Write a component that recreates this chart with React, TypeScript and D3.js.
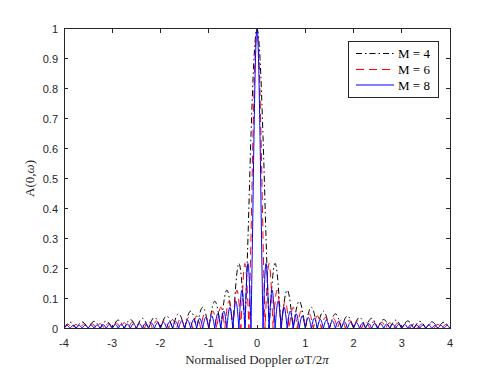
import React from 'react';
import * as d3 from 'd3';

// tick labels
const dopplerTicks = [-4, -3, -2, -1, 0, 1, 2, 3, 4];
const ampTicks = [0, 0.1, 0.2, 0.3, 0.4, 0.5, 0.6, 0.7, 0.8, 0.9, 1];

// pulse counts (one curve each)
const orders = [4, 6, 8];
const seriesLabels = ['M = 4', 'M = 6', 'M = 8'];

const mainLobeM4 = [1, 0.9, 0.64, 0.3, 0];
const mainLobeM6 = [1, 0.9, 0.64, 0.3, 0];
const mainLobeM8 = [1, 0.9, 0.64, 0.3, 0];

// sidelobe peak heights going outward from the main lobe (positive side, mirrored)
const peaksM4 = [0.217, 0.128, 0.091, 0.071, 0.058, 0.049, 0.042, 0.037, 0.034, 0.030,
  0.028, 0.025, 0.024, 0.022, 0.021];
const peaksM6 = [0.217, 0.128, 0.091, 0.071, 0.058, 0.049, 0.042, 0.037, 0.034, 0.030,
  0.028, 0.025, 0.024, 0.022, 0.021, 0.019, 0.018, 0.017, 0.016, 0.0155, 0.015, 0.014, 0.0135];
const peaksM8 = [0.217, 0.128, 0.091, 0.071, 0.058, 0.049, 0.042, 0.037, 0.034, 0.030,
  0.028, 0.025, 0.024, 0.022, 0.021, 0.019, 0.018, 0.017, 0.016, 0.0155, 0.015, 0.014, 0.0135,
  0.013, 0.0125, 0.012, 0.0116, 0.0112, 0.0108, 0.0104, 0.0101];

const mainLobes = [mainLobeM4, mainLobeM6, mainLobeM8];
const sidePeaks = [peaksM4, peaksM6, peaksM8];

const colors = ['#000000', '#ff0000', '#0000ff'];
const dashes = ['6,3,1.5,3', '8,5', null];

const width = 498;
const height = 369;
const margin = {left: 64, top: 28.5, right: 48, bottom: 40.5};
const plotW = width - margin.left - margin.right;
const plotH = height - margin.top - margin.bottom;
const axisColor = '#262626';

const xScale = d3.scaleLinear().domain([-4, 4]).range([0, plotW]);
const yScale = d3.scaleLinear().domain([0, 1]).range([plotH, 0]);

type Pt = [number, number];

const lobeLine = d3.line<Pt>()
  .x((d) => xScale(d[0]))
  .y((d) => yScale(d[1]))
  .curve(d3.curveMonotoneX);

// each lobe drawn as its own monotone arch, joined into one path so the
// nulls come out as sharp cusps like the original
function curvePath(order: number, main: number[], peaks: number[]) {
  const w = 1 / order;
  const half: Pt[] = main.map((v, i) => [(i * w) / (main.length - 1), v]);
  const mainPts: Pt[] = [
    ...half.slice(1).reverse().map(([f, v]) => [-f, v] as Pt),
    ...half,
  ];
  const lobes: Pt[][] = [];
  for (let k = peaks.length; k >= 1; k--) {
    lobes.push([[-(k + 1) * w, 0], [-(k + 0.5) * w, peaks[k - 1]], [-k * w, 0]]);
  }
  lobes.push(mainPts);
  peaks.forEach((p, i) => {
    const k = i + 1;
    lobes.push([[k * w, 0], [(k + 0.5) * w, p], [(k + 1) * w, 0]]);
  });
  return lobes
    .map((pts, i) => {
      const d = lobeLine(pts) || '';
      return i === 0 ? d : d.replace(/^M[^CL]*/, '');
    })
    .join('');
}

export default function App() {
  const legendX = 348;
  const legendY = 41;
  const rowY = [53.5, 69.5, 85];

  return (
    <svg width={width} height={height}
      style={{position: 'absolute', left: 0, top: 0, background: '#fff'}}>
      <defs>
        <clipPath id="plot-clip">
          <rect x={0} y={-2} width={plotW} height={plotH + 2} />
        </clipPath>
      </defs>
      <g transform={`translate(${margin.left}, ${margin.top})`}>
        {/* curves */}
        <g clipPath="url(#plot-clip)">
          {orders.map((m, i) => (
            <path key={m} d={curvePath(m, mainLobes[i], sidePeaks[i])}
              fill="none" stroke={colors[i]} strokeWidth={1}
              strokeDasharray={dashes[i] || undefined} />
          ))}
        </g>

        {/* box */}
        <rect x={0} y={0} width={plotW} height={plotH} fill="none"
          stroke={axisColor} strokeWidth={1} shapeRendering="crispEdges" />

        {/* x ticks, bottom and top, pointing in */}
        {dopplerTicks.map((t) => (
          <g key={'x' + t}>
            <line x1={xScale(t)} x2={xScale(t)} y1={plotH} y2={plotH - 4}
              stroke={axisColor} shapeRendering="crispEdges" />
            <line x1={xScale(t)} x2={xScale(t)} y1={0} y2={4}
              stroke={axisColor} shapeRendering="crispEdges" />
            <text x={xScale(t)} y={plotH + 18} textAnchor="middle"
              fontFamily="'Liberation Sans', Arial, sans-serif" fontSize={11} fill={axisColor}>
              {t}
            </text>
          </g>
        ))}

        {/* y ticks, left and right */}
        {ampTicks.map((t) => (
          <g key={'y' + t}>
            <line x1={0} x2={4} y1={yScale(t)} y2={yScale(t)}
              stroke={axisColor} shapeRendering="crispEdges" />
            <line x1={plotW} x2={plotW - 4} y1={yScale(t)} y2={yScale(t)}
              stroke={axisColor} shapeRendering="crispEdges" />
            <text x={-6} y={yScale(t) + 4} textAnchor="end"
              fontFamily="'Liberation Sans', Arial, sans-serif" fontSize={11} fill={axisColor}>
              {t}
            </text>
          </g>
        ))}

        {/* axis labels */}
        <text x={plotW / 2} y={plotH + 35} textAnchor="middle"
          fontFamily="'Liberation Serif', 'Times New Roman', serif" fontSize={13} fill={axisColor}>
          Normalised Doppler <tspan fontStyle="italic">ω</tspan>T/2<tspan fontStyle="italic">π</tspan>
        </text>
        <text transform={`translate(${-30}, ${plotH / 2}) rotate(-90)`} textAnchor="middle"
          fontFamily="'Liberation Serif', 'Times New Roman', serif" fontSize={13} fill={axisColor}>
          A(0,<tspan fontStyle="italic">ω</tspan>)
        </text>
      </g>

      {/* legend */}
      <g>
        <rect x={legendX} y={legendY} width={90} height={56} fill="#fff"
          stroke={axisColor} strokeWidth={1} shapeRendering="crispEdges" />
        {seriesLabels.map((label, i) => (
          <g key={label}>
            <line x1={356} x2={394} y1={rowY[i]} y2={rowY[i]} stroke={colors[i]}
              strokeWidth={1} strokeDasharray={dashes[i] || undefined} />
            <text x={398} y={rowY[i] + 4.5}
              fontFamily="'Liberation Serif', 'Times New Roman', serif" fontSize={13} fill="#000">
              {label}
            </text>
          </g>
        ))}
      </g>
    </svg>
  );
}
